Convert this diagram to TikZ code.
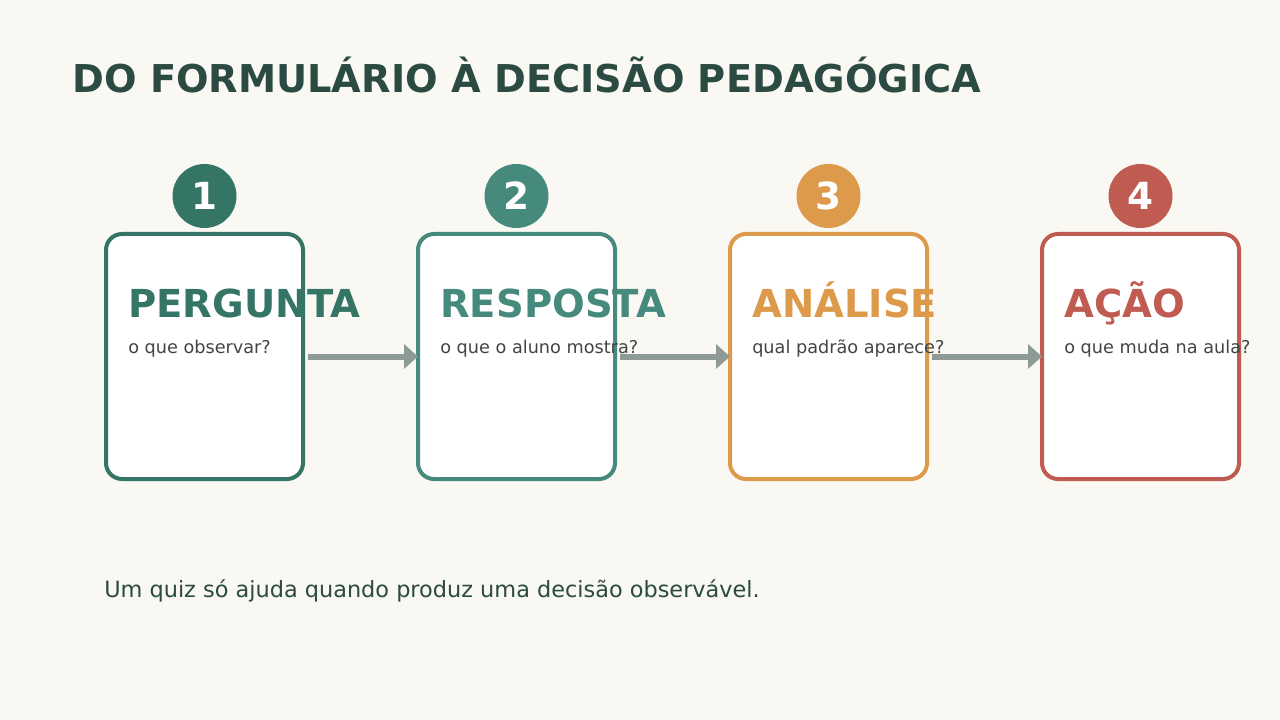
\documentclass[tikz,border=0pt]{standalone}
\usepackage{fontspec}
\setmainfont{DejaVu Sans}
\usetikzlibrary{arrows.meta,positioning}
\definecolor{bg}{HTML}{F9F8F3}
\definecolor{ink}{HTML}{2B4A42}
\definecolor{note}{HTML}{444444}
\definecolor{flowgray}{HTML}{8E9A96}
\definecolor{cA}{HTML}{347565}
\definecolor{cB}{HTML}{468A7E}
\definecolor{cC}{HTML}{DD9A4A}
\definecolor{cD}{HTML}{BF5B50}
\tikzset{
  card/.style={rectangle, rounded corners=12pt, draw=#1, line width=3pt, fill=white,
    minimum width=147.75pt, minimum height=183.75pt, outer sep=0pt, inner sep=0pt},
  badge/.style={circle, fill=#1, minimum size=48pt, inner sep=0pt, text=white,
    font=\bfseries\fontsize{28pt}{28pt}\selectfont},
  heading/.style={anchor=base west, inner sep=0pt, text=#1,
    font=\bfseries\fontsize{28.9pt}{30pt}\selectfont},
  hint/.style={anchor=base west, inner sep=0pt, text=note,
    font=\fontsize{13.25pt}{15pt}\selectfont},
  flow/.style={draw=flowgray, line width=4.5pt, -{Triangle[length=10.5pt,width=18pt]}, shorten <=3.75pt}
}

\begin{document}
\begin{tikzpicture}[x=0.75pt, y=-0.75pt, node distance={234pt}]
\fill[bg] (0,0) rectangle (1280,720);
\useasboundingbox (0,0) rectangle (1280,720);

\node (title) [anchor=base west, inner sep=0pt, text=ink, font=\bfseries\fontsize{28.75pt}{30pt}\selectfont] at (72,93) {DO FORMULÁRIO À DECISÃO PEDAGÓGICA};

\node (b1) [card=cA] at (204.5,356.5) {};
\node (b2) [card=cB, right of=b1] {};
\node (b3) [card=cC, right of=b2] {};
\node (b4) [card=cD, right of=b3] {};

\node (n1) [badge=cA] at (204.5,196) {1};
\node (n2) [badge=cB] at (516.5,196) {2};
\node (n3) [badge=cC] at (828.5,196) {3};
\node (n4) [badge=cD] at (1140.5,196) {4};

\draw[flow] (b1.east) -- (b2.west);
\draw[flow] (b2.east) -- (b3.west);
\draw[flow] (b3.east) -- (b4.west);

\node (t1) [heading=cA] at (128,317) {PERGUNTA};
\node (t2) [heading=cB] at (440,317) {RESPOSTA};
\node (t3) [heading=cC] at (752,317) {ANÁLISE};
\node (t4) [heading=cD] at (1064,317) {AÇÃO};

\node (s1) [hint] at (128,353) {o que observar?};
\node (s2) [hint] at (440,353) {o que o aluno mostra?};
\node (s3) [hint] at (752,353) {qual padrão aparece?};
\node (s4) [hint] at (1064,353) {o que muda na aula?};

\node (foot) [anchor=base west, inner sep=0pt, text=ink, font=\fontsize{16.8pt}{19pt}\selectfont] at (104,597) {Um quiz só ajuda quando produz uma decisão observável.};

\end{tikzpicture}
\end{document}
